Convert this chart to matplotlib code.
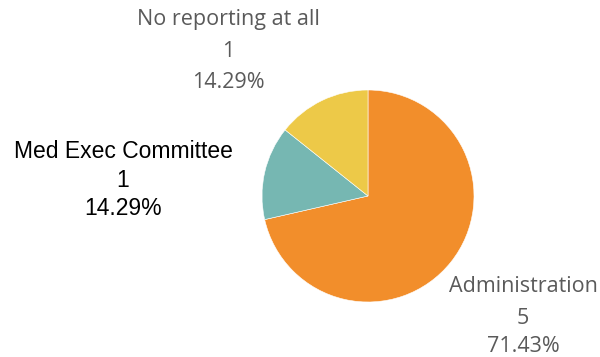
import matplotlib
matplotlib.use("Agg")
import matplotlib.pyplot as plt

categories = ["Administration", "Med Exec Committee", "No reporting at all"]
counts = [5, 1, 1]
percent_labels = ["71.43%", "14.29%", "14.29%"]
colors = ["#F28E2B", "#76B7B2", "#EDC948"]

W, H = 600, 357
fig = plt.figure(figsize=(W / 100, H / 100), dpi=100)

cx, cy, r = 368, 196, 106
ax = fig.add_axes([(cx - r) / W, (H - cy - r) / H, 2 * r / W, 2 * r / H])
ax.pie(counts, colors=colors, startangle=90, counterclock=False,
       wedgeprops=dict(edgecolor="white", linewidth=0.4))
ax.set_xlim(-1.0, 1.0)
ax.set_ylim(-1.0, 1.0)
ax.set_aspect("equal")
ax.axis("off")

def put(x, y, s, **kw):
    fig.text(x / W, 1 - y / H, s, ha="center", va="baseline", **kw)

tab = dict(family="Open Sans", color="#5a5a5a", fontsize=15.5)
ar = dict(family="Liberation Sans", color="#000000", fontsize=16.5)

# No reporting at all
put(228, 25, categories[2], **tab)
put(228, 57, str(counts[2]), **tab)
put(228, 88, percent_labels[2], **tab)

# Med Exec Committee
put(123, 158, categories[1], **ar)
put(123, 187, str(counts[1]), **ar)
put(123, 215, percent_labels[1], **ar)

# Administration
put(523, 292, categories[0], **tab)
put(523, 324, str(counts[0]), **tab)
put(523, 352, percent_labels[0], **tab)

fig.savefig("out.png", dpi=100, facecolor="white")
